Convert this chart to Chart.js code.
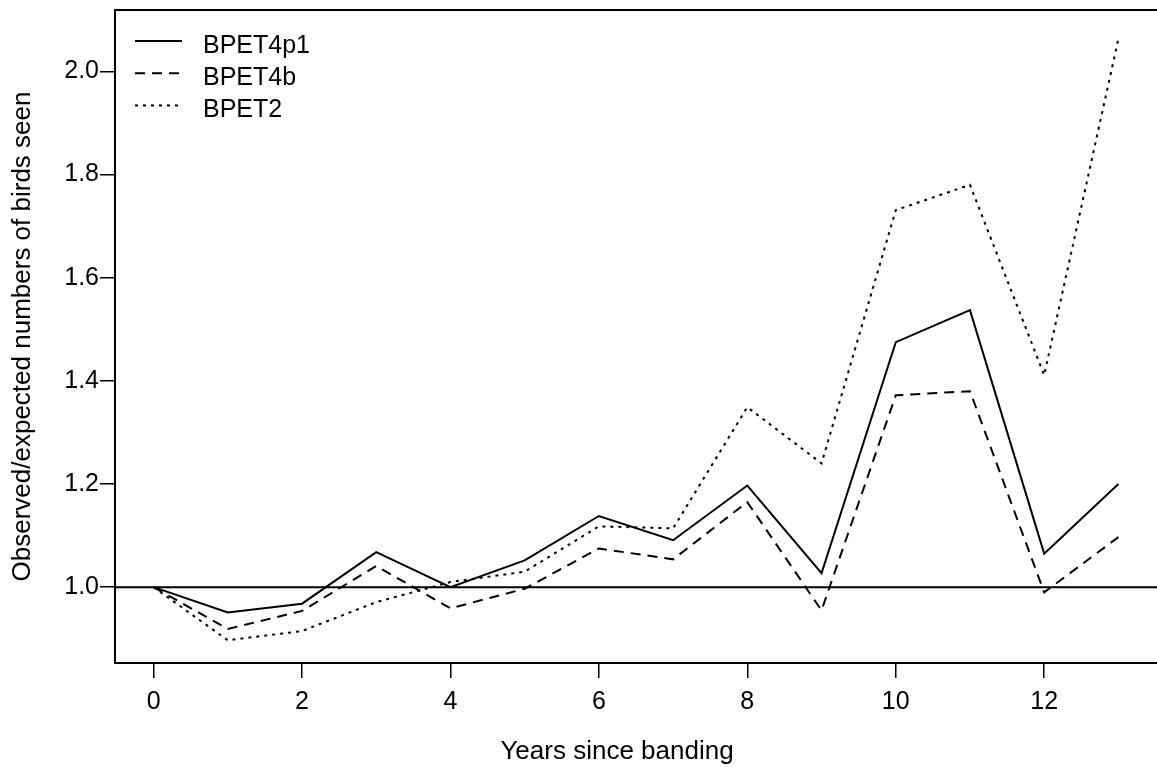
<!DOCTYPE html>
<html>
<head>
<meta charset="utf-8">
<script src="https://cdn.jsdelivr.net/npm/chart.js@4/dist/chart.umd.min.js"></script>
<style>
  html, body { margin: 0; padding: 0; background: #fff; }
  #wrap { width: 1157px; height: 767px; position: relative; }
</style>
</head>
<body>
<div id="wrap"><canvas id="birdChart"></canvas></div>
<script>
// années depuis le baguage
const years = [0, 1, 2, 3, 4, 5, 6, 7, 8, 9, 10, 11, 12, 13];

const bpet4p1 = [1.0, 0.951, 0.968, 1.068, 1.0, 1.052, 1.138, 1.091, 1.197, 1.027, 1.475, 1.537, 1.065, 1.2];
const bpet4b  = [1.0, 0.919, 0.954, 1.041, 0.959, 0.997, 1.075, 1.054, 1.165, 0.955, 1.372, 1.38, 0.99, 1.097];
const bpet2   = [1.0, 0.897, 0.915, 0.971, 1.01, 1.03, 1.118, 1.114, 1.349, 1.24, 1.731, 1.78, 1.411, 2.063];

const seriesNames = ['BPET4p1', 'BPET4b', 'BPET2'];

// ticks des axes
const xTicks = [0, 2, 4, 6, 8, 10, 12];
const yTicks = [1.0, 1.2, 1.4, 1.6, 1.8, 2.0];
const refLine = 1.0;

const xTitle = 'Years since banding';
const yTitle = 'Observed/expected numbers of birds seen';

const FONT = 'Liberation Sans, Arial, Helvetica, sans-serif';

const toPoints = arr => arr.map((v, i) => ({ x: years[i], y: v }));

// cadre + ligne de référence à 1.0
const framePlugin = {
    id: 'frame',
    beforeDatasetsDraw(chart) {
        const { ctx, chartArea: a, scales } = chart;
        const yRef = scales.y.getPixelForValue(refLine);
        ctx.save();
        ctx.strokeStyle = '#000';
        ctx.lineWidth = 2;
        ctx.beginPath();
        ctx.moveTo(a.left, yRef);
        ctx.lineTo(a.right, yRef);
        ctx.stroke();
        ctx.restore();
    },
    afterDraw(chart) {
        const { ctx, chartArea: a } = chart;
        ctx.save();
        ctx.strokeStyle = '#000';
        ctx.lineWidth = 2;
        ctx.beginPath();
        ctx.moveTo(a.right + 2, a.top);
        ctx.lineTo(a.left, a.top);
        ctx.lineTo(a.left, a.bottom);
        ctx.lineTo(a.right + 2, a.bottom);
        ctx.stroke();

        // titre de l'axe x : dans l'original il n'est pas centré sur la zone visible
        ctx.fillStyle = '#000';
        ctx.font = '26px ' + FONT;
        ctx.textAlign = 'center';
        ctx.textBaseline = 'middle';
        ctx.fillText(xTitle, 617, chart.height - 15);
        ctx.restore();
    }
};

// légende façon R : trait + texte
const legendPlugin = {
    id: 'rLegend',
    afterDraw(chart) {
        const { ctx, chartArea: a } = chart;
        ctx.save();
        chart.data.datasets.forEach((ds, i) => {
            const y = a.top + 31 + i * 32.3;
            ctx.strokeStyle = '#000';
            ctx.lineWidth = ds.borderWidth;
            ctx.setLineDash(ds.borderDash || []);
            ctx.beginPath();
            ctx.moveTo(a.left + 20, y);
            ctx.lineTo(a.left + 67, y);
            ctx.stroke();
            ctx.setLineDash([]);
            ctx.fillStyle = '#000';
            ctx.font = '25px ' + FONT;
            ctx.textBaseline = 'middle';
            ctx.textAlign = 'left';
            ctx.fillText(ds.label, a.left + 88, y + 5);
        });
        ctx.restore();
    }
};

const ctx = document.getElementById('birdChart').getContext('2d');

new Chart(ctx, {
    type: 'line',
    data: {
        datasets: [
            {
                label: seriesNames[0],
                data: toPoints(bpet4p1),
                borderColor: '#000',
                borderWidth: 2,
                pointRadius: 0,
                fill: false,
                tension: 0
            },
            {
                label: seriesNames[1],
                data: toPoints(bpet4b),
                borderColor: '#000',
                borderWidth: 2,
                borderDash: [10, 7],
                pointRadius: 0,
                fill: false,
                tension: 0
            },
            {
                label: seriesNames[2],
                data: toPoints(bpet2),
                borderColor: '#000',
                borderWidth: 2,
                borderDash: [3, 5],
                pointRadius: 0,
                fill: false,
                tension: 0
            }
        ]
    },
    options: {
        responsive: true,
        maintainAspectRatio: false,
        animation: false,
        events: [],
        layout: { padding: { top: 10, right: 0, left: 0, bottom: 0 } },
        plugins: {
            legend: { display: false },
            tooltip: { enabled: false }
        },
        scales: {
            x: {
                type: 'linear',
                min: -0.52,
                max: 13.52,
                afterBuildTicks: axis => { axis.ticks = xTicks.map(v => ({ value: v })); },
                afterFit: scale => {
                    scale.height = 104;
                    scale.paddingLeft = 0;
                    scale.paddingRight = 0;
                },
                border: { display: false },
                grid: {
                    display: true,
                    drawOnChartArea: false,
                    drawTicks: true,
                    tickLength: 15,
                    color: '#000',
                    lineWidth: 1.5
                },
                ticks: {
                    color: '#000',
                    padding: 9,
                    maxRotation: 0,
                    font: { family: FONT, size: 25 },
                    callback: v => String(v)
                },
                title: { display: false }
            },
            y: {
                type: 'linear',
                min: 0.853,
                max: 2.119,
                afterBuildTicks: axis => { axis.ticks = yTicks.map(v => ({ value: v })); },
                afterFit: scale => {
                    scale.width = 115;
                    scale.paddingTop = 0;
                    scale.paddingBottom = 0;
                },
                border: { display: false },
                grid: {
                    display: true,
                    drawOnChartArea: false,
                    drawTicks: true,
                    tickLength: 15,
                    color: '#000',
                    lineWidth: 1.5
                },
                ticks: {
                    color: '#000',
                    padding: 1,
                    font: { family: FONT, size: 25 },
                    callback: v => v.toFixed(1)
                },
                title: {
                    display: true,
                    text: yTitle,
                    color: '#000',
                    font: { family: FONT, size: 26 },
                    padding: { top: 7, bottom: 0 }
                }
            }
        }
    },
    plugins: [framePlugin, legendPlugin]
});
</script>
</body>
</html>
